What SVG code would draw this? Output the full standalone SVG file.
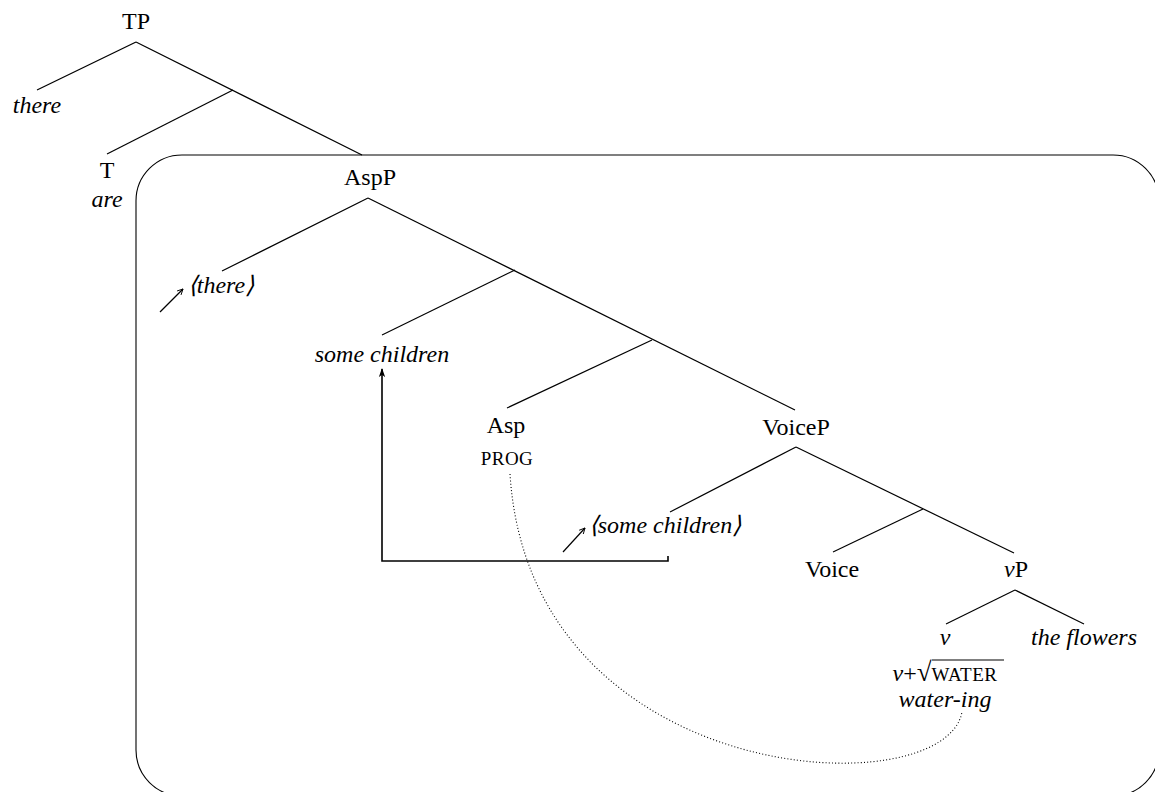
<svg xmlns="http://www.w3.org/2000/svg" width="1155" height="792" viewBox="0 0 1155 792">
<defs>
<style>
text{font-family:"Liberation Serif","Times New Roman",serif;font-size:24px;fill:#000;text-anchor:middle}
.i{font-style:italic}
.sc{font-size:19px;letter-spacing:0.5px}
.e{stroke:#000;stroke-width:1.2;fill:none}
</style>
<marker id="ah" viewBox="0 0 10 10" refX="9" refY="5" markerWidth="7" markerHeight="7" orient="auto" markerUnits="userSpaceOnUse">
<path d="M1,1 L9,5 L1,9" fill="none" stroke="#000" stroke-width="1.3"/>
</marker>
<marker id="ah2" viewBox="0 0 10 10" refX="9" refY="5" markerWidth="9" markerHeight="9" orient="auto" markerUnits="userSpaceOnUse">
<path d="M0,1.5 L10,5 L0,8.5 L2.5,5 Z" fill="#000"/>
</marker>
</defs>
<rect id="box" x="136" y="155" width="1023" height="641" rx="46" ry="46" fill="none" stroke="#000" stroke-width="1.1"/>
<g id="connectors">
<line class="e" x1="136" y1="42" x2="37" y2="90"/>
<line class="e" x1="136" y1="42" x2="362" y2="155"/>
<line class="e" x1="233" y1="90" x2="107" y2="154"/>
<line class="e" x1="368" y1="198" x2="222" y2="271"/>
<line class="e" x1="368" y1="198" x2="795" y2="410"/>
<line class="e" x1="515" y1="270" x2="382" y2="335"/>
<line class="e" x1="652" y1="340" x2="507" y2="408"/>
<line class="e" x1="796" y1="447" x2="670" y2="512"/>
<line class="e" x1="796" y1="447" x2="1014" y2="553"/>
<line class="e" x1="923" y1="509" x2="833" y2="552"/>
<line class="e" x1="1015" y1="590" x2="946" y2="624"/>
<line class="e" x1="1015" y1="590" x2="1084" y2="624"/>
<line class="e" x1="160" y1="312" x2="183" y2="289" marker-end="url(#ah)"/>
<line class="e" x1="563" y1="552" x2="585" y2="528" marker-end="url(#ah)"/>
<polyline points="668,556 668,561 382,561 382,369" fill="none" stroke="#000" stroke-width="1.6" marker-end="url(#ah2)"/>
<path d="M510,474 C530,790 945,808 962,712" fill="none" stroke="#000" stroke-width="1.1" stroke-dasharray="1 2.2"/>
</g>
<g id="TP"><text x="136" y="29">TP</text></g>
<g id="there"><text class="i" x="37" y="113">there</text></g>
<g id="T"><text x="107" y="178">T</text><text class="i" x="107" y="207">are</text></g>
<g id="AspP"><text x="370" y="185">AspP</text></g>
<g id="there-trace"><text class="i" x="221" y="293">⟨there⟩</text></g>
<g id="some-children"><text class="i" x="382" y="362">some children</text></g>
<g id="Asp"><text x="506" y="433">Asp</text><text class="sc" x="507" y="465">PROG</text></g>
<g id="VoiceP"><text x="796" y="435">VoiceP</text></g>
<g id="some-children-trace"><text class="i" x="665" y="533">⟨some children⟩</text></g>
<g id="Voice"><text x="832" y="577">Voice</text></g>
<g id="vP"><text x="1016" y="577"><tspan class="i">v</tspan>P</text></g>
<g id="v"><text class="i" x="945" y="645">v</text>
<text x="945" y="681"><tspan class="i">v</tspan>+<tspan font-size="27">√</tspan><tspan class="sc">WATER</tspan></text>
<line x1="932" y1="660" x2="1004" y2="660" stroke="#000" stroke-width="1.1"/>
<text class="i" x="945" y="707">water-ing</text></g>
<g id="the-flowers"><text class="i" x="1084" y="645">the flowers</text></g>
</svg>
